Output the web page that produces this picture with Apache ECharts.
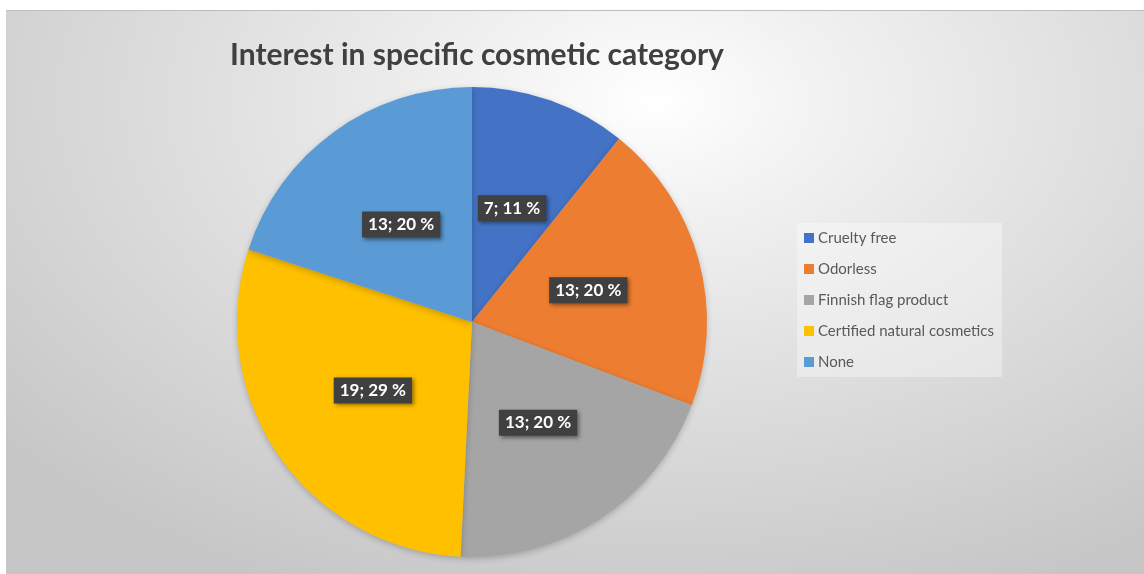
<!DOCTYPE html>
<html>
<head>
<meta charset="utf-8">
<script src="https://cdn.jsdelivr.net/npm/echarts@6/dist/echarts.min.js"></script>
<style>
  html, body { margin: 0; padding: 0; background: #ffffff; }
  #panel {
    position: absolute; left: 6px; top: 10px; width: 1138px; height: 564px;
    border-top: 1px solid #bdbdbd; box-sizing: border-box;
    background: radial-gradient(ellipse 75% 95% at 57% 16%, #ffffff 0%, #f3f3f3 18%, #dedede 55%, #c6c6c6 100%);
  }
  #chart { position: absolute; left: 0; top: 0; width: 1144px; height: 574px; }
</style>
</head>
<body>
<div id="panel"></div>
<div id="chart"></div>
<script>
// Survey answers: interest in a specific cosmetic category
const categories = ['Cruelty free', 'Odorless', 'Finnish flag product', 'Certified natural cosmetics', 'None'];
const counts = [7, 13, 13, 19, 13];
const sliceColors = ['#4472C4', '#ED7D31', '#A5A5A5', '#FFC000', '#5B9BD5'];
const chartTitle = 'Interest in specific cosmetic category';

const chart = echarts.init(document.getElementById('chart'), null, { renderer: 'canvas' });

chart.setOption({
  animation: false,
  color: sliceColors,
  title: {
    text: chartTitle,
    left: 472,
    top: 35,
    textAlign: 'center',
    textStyle: { fontFamily: 'Lato', fontWeight: 'bold', fontSize: 30, color: '#404040' }
  },
  legend: {
    orient: 'vertical',
    left: 797,
    top: 223,
    padding: [7, 8, 7, 7],
    backgroundColor: 'rgba(255,255,255,0.35)',
    itemWidth: 10,
    itemHeight: 10,
    itemGap: 15,
    icon: 'rect',
    data: categories,
    textStyle: { fontFamily: 'Lato', fontSize: 15, color: '#595959', lineHeight: 16, padding: [0, 0, 0, -1] }
  },
  series: [{
    type: 'pie',
    center: [472, 322],
    radius: 235,
    startAngle: 90,
    clockwise: true,
    avoidLabelOverlap: false,
    itemStyle: { shadowBlur: 6, shadowColor: 'rgba(0,0,0,0.22)', shadowOffsetY: 2 },
    emphasis: { disabled: true },
    label: {
      show: true,
      position: 'inside',
      formatter: p => `${p.value}; ${Math.round(p.percent)} %`,
      fontFamily: 'Lato',
      fontWeight: 'bold',
      fontSize: 17,
      color: '#ffffff',
      backgroundColor: '#404040',
      padding: [5, 6, 4, 6],
      shadowBlur: 4,
      shadowColor: 'rgba(0,0,0,0.45)',
      shadowOffsetX: 2,
      shadowOffsetY: 2
    },
    labelLine: { show: false },
    data: categories.map((name, i) => ({ name, value: counts[i] }))
  }]
});
</script>
</body>
</html>
